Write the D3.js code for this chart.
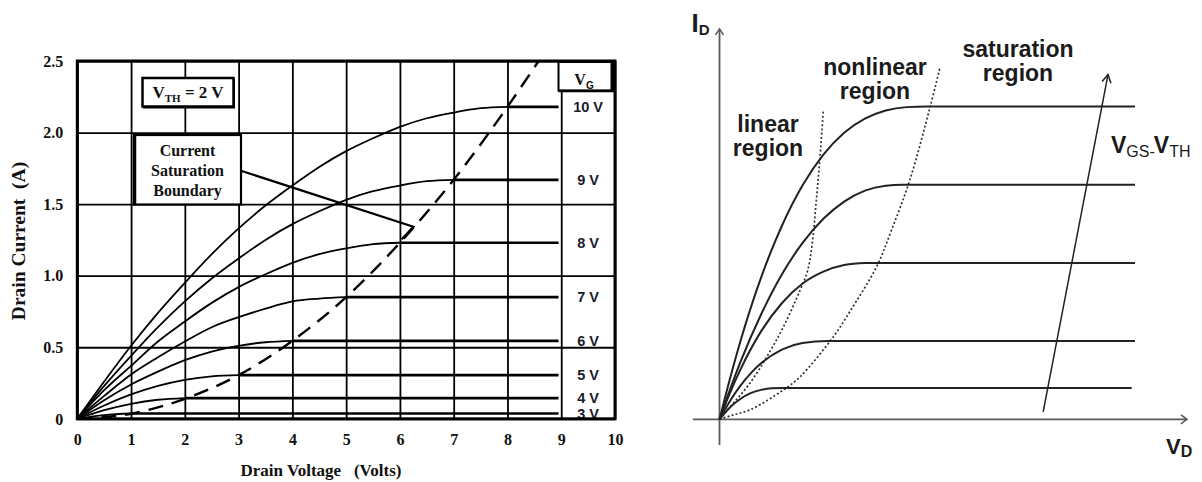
<!DOCTYPE html>
<html><head><meta charset="utf-8">
<script src="https://cdn.jsdelivr.net/npm/d3@7"></script>
<style>
html,body{margin:0;padding:0;background:#fff;}
svg{display:block;}
</style></head>
<body><svg id="chart" width="1202" height="482"></svg>
<script>
// ---------------- LEFT CHART DATA ----------------
const xTickVals = [0,1,2,3,4,5,6,7,8,9,10];
const yTickVals = [0,0.5,1.0,1.5,2.0,2.5];
const yTickLabels = ["0","0.5","1.0","1.5","2.0","2.5"];
const vdsGrid = [0,0.5,1,1.5,2,2.5,3,3.5,4,4.5,5,5.5,6,6.5,7,7.5,8];
// drain current (A) read along vdsGrid, up to the saturation point
const id10V = [0,0.26,0.51,0.74,0.95,1.15,1.33,1.49,1.63,1.76,1.87,1.96,2.04,2.10,2.14,2.17,2.18];
const id9V  = [0,0.23,0.44,0.64,0.82,0.98,1.12,1.25,1.36,1.45,1.53,1.59,1.63,1.66,1.67];
const id8V  = [0,0.20,0.37,0.54,0.68,0.81,0.92,1.01,1.09,1.15,1.19,1.22,1.23];
const id7V  = [0,0.16,0.31,0.43,0.54,0.64,0.71,0.77,0.82,0.84,0.85];
const id6V  = [0,0.13,0.24,0.33,0.41,0.47,0.51,0.535,0.545];
const id5V  = [0,0.093,0.17,0.23,0.272,0.297,0.305];
const id4V  = [0,0.06,0.105,0.133,0.145];
const id3V  = [0,0.026,0.037];
const gateCurves = [id3V,id4V,id5V,id6V,id7V,id8V,id9V,id10V];
const gateLabels = ["3 V","4 V","5 V","6 V","7 V","8 V","9 V","10 V"];
const flatEndV = 8.95;
const boundaryV = [0,1,2,3,4,5,6,7,8,8.58];
const boundaryI = [0,0.035,0.14,0.305,0.545,0.85,1.23,1.67,2.18,2.5];

// ---------------- RIGHT SCHEMATIC DATA (arbitrary units) ----------------
const schemTop    = [[0,0],[2.5,12.9],[5,24.8],[10,45.3],[15,61.8],[20,74.8],[25,84.6],[30,91.6],[35,96.1],[40,98.7],[45,99.8],[50,100],[100,100]];
const schemSecond = [[0,0],[2.5,9.4],[5,18.2],[10,33.5],[15,46.3],[20,56.4],[25,64.1],[30,69.6],[35,73.1],[40,74.7],[44,75],[100,75]];
const schemThird  = [[0,0],[2.5,8.4],[5,15.8],[10,28.1],[15,37.1],[20,43.4],[25,47.2],[30,49.3],[35,49.95],[38,50],[100,50]];
const schemFourth = [[0,0],[2.5,5.8],[5,10.7],[7.5,14.7],[10,17.9],[15,22.3],[20,24.4],[26,25],[100,25]];
const schemFifth  = [[0,0],[2.5,3.8],[5,6.5],[7.5,8.35],[10,9.4],[12.5,9.9],[15.4,10],[99.2,10]];
const schemCurves = [schemTop,schemSecond,schemThird,schemFourth,schemFifth];
const dottedInner = [[0,0],[3.3,5.1],[7.3,11.5],[11.4,20],[15.4,29.6],[19.4,41.3],[21.2,47.5],[22.3,56],[23.3,70],[24.2,84],[25,99]];
const dottedOuter = [[0,0],[3.3,1.4],[7.3,3],[15.4,9.4],[19.4,13.6],[27.4,26.4],[31.4,34.5],[37.8,48.8],[41.4,60.5],[45.8,76.5],[50.7,99.9],[53.1,112.7]];
const vgsArrow = [[77.9,2.4],[93.5,110.2]];
const schemXAxis = [-6.4,112.5];
const schemYAxis = [-8.2,124.8];

// ---------------- DRAW ----------------
const svg = d3.select("#chart");
const SERIF = "'Liberation Serif','Times New Roman',serif";
const SANS = "'Liberation Sans',Arial,sans-serif";
const INK = "#111";

const x = d3.scaleLinear().domain([0,10]).range([77.3,615]);
const y = d3.scaleLinear().domain([0,2.5]).range([418.8,61]);
const W = x(10)-x(0), H = y(0)-y(2.5);

const L = svg.append("g");

// grid + tick labels via axes
const gx = L.append("g").attr("transform",`translate(0,${y(0)})`)
  .call(d3.axisBottom(x).tickValues(xTickVals).tickSize(-H).tickPadding(14.5).tickFormat(d3.format("d")));
const gy = L.append("g").attr("transform",`translate(${x(0)},0)`)
  .call(d3.axisLeft(y).tickValues(yTickVals).tickSize(-W).tickPadding(14).tickFormat((d,i)=>yTickLabels[i]));
[gx,gy].forEach(g=>{
  g.select(".domain").remove();
  g.selectAll(".tick line").attr("stroke","#000").attr("stroke-width",1.8);
  g.selectAll(".tick text").attr("fill",INK).style("font-family",SERIF)
   .style("font-weight","bold").style("font-size","16px");
});
gy.selectAll(".tick text").attr("dy","0.33em");

// gate curves
const line = d3.line().x(d=>x(d[0])).y(d=>y(d[1])).curve(d3.curveMonotoneX);
gateCurves.forEach((arr)=>{
  const pts = arr.map((v,j)=>[vdsGrid[j],v]);
  L.append("path").attr("d",line(pts)).attr("fill","none")
   .attr("stroke","#000").attr("stroke-width",1.8);
  const last = pts[pts.length-1];
  L.append("line").attr("x1",x(last[0])).attr("x2",x(flatEndV))
   .attr("y1",y(last[1])).attr("y2",y(last[1]))
   .attr("stroke","#000").attr("stroke-width",2.7);
});

// saturation boundary (dashed)
L.append("path").attr("d",line(boundaryV.map((v,i)=>[v,boundaryI[i]])))
  .attr("fill","none").attr("stroke","#000").attr("stroke-width",2.4)
  .attr("stroke-dasharray","15,9");

// gate voltage labels
L.selectAll("text.gl").data(gateCurves).join("text").attr("class","gl")
  .attr("x",x(9.5)).attr("y",d=>y(d[d.length-1])).attr("dy","0.36em")
  .attr("text-anchor","middle").attr("fill","#1a1a2a")
  .style("font-family",SANS).style("font-weight","bold").style("font-size","14.5px")
  .text((d,i)=>gateLabels[i]);

// V_G header box
const vg = L.append("g");
vg.append("rect").attr("x",558.5).attr("y",62).attr("width",54).attr("height",28.5)
  .attr("fill","#fff").attr("stroke","#000").attr("stroke-width",2);
vg.append("line").attr("x1",612.5).attr("x2",612.5).attr("y1",62).attr("y2",92).attr("stroke","#000").attr("stroke-width",4);
vg.append("line").attr("x1",558.5).attr("x2",614).attr("y1",91).attr("y2",91).attr("stroke","#000").attr("stroke-width",2.5);
const vgt = vg.append("text").attr("x",584).attr("y",84.5).attr("text-anchor","middle").attr("fill",INK)
  .style("font-family",SERIF).style("font-weight","bold").style("font-size","16px");
vgt.append("tspan").text("V");
vgt.append("tspan").attr("dy",4).style("font-size","10px").style("font-family",SANS).text("G");

// V_TH box
const vth = L.append("g");
vth.append("rect").attr("x",142.5).attr("y",78).attr("width",91).attr("height",28.5)
  .attr("fill","#fff").attr("stroke","#000").attr("stroke-width",2.5);
vth.append("line").attr("x1",234).attr("x2",234).attr("y1",79).attr("y2",108).attr("stroke","#000").attr("stroke-width",2);
vth.append("line").attr("x1",143).attr("x2",235).attr("y1",107.5).attr("y2",107.5).attr("stroke","#000").attr("stroke-width",2);
const vtht = vth.append("text").attr("x",188).attr("y",98.3).attr("text-anchor","middle").attr("fill",INK)
  .style("font-family",SERIF).style("font-weight","bold").style("font-size","17px");
vtht.append("tspan").text("V");
vtht.append("tspan").attr("dy",4).style("font-size","11px").text("TH");
vtht.append("tspan").attr("dy",-4).text(" = 2 V");

// Current Saturation Boundary callout
const cb = L.append("g");
cb.append("polyline").attr("points",[[241.7,171],[413.3,226.7],[401.7,239.3]].join(" "))
  .attr("fill","none").attr("stroke","#000").attr("stroke-width",2.2);
cb.append("rect").attr("x",134.5).attr("y",135).attr("width",106.5).attr("height",69.5)
  .attr("fill","#fff").attr("stroke","#000").attr("stroke-width",2.2);
cb.append("line").attr("x1",134.5).attr("x2",134.5).attr("y1",134).attr("y2",205.5).attr("stroke","#000").attr("stroke-width",3.5);
["Current","Saturation","Boundary"].forEach((t,i)=>{
  cb.append("text").attr("x",187.5).attr("y",156+i*20).attr("text-anchor","middle").attr("fill",INK)
   .style("font-family",SERIF).style("font-weight","bold").style("font-size","16px").text(t);
});

// frame
L.append("rect").attr("x",x(0)).attr("y",y(2.5)).attr("width",W).attr("height",H)
  .attr("fill","none").attr("stroke","#000").attr("stroke-width",3);

// axis titles
L.append("text").attr("x",321).attr("y",475.5).attr("text-anchor","middle").attr("fill",INK)
  .style("font-family",SERIF).style("font-weight","bold").style("font-size","17px")
  .style("white-space","pre").text("Drain Voltage   (Volts)");
L.append("text").attr("transform","translate(25,241) rotate(-90)").attr("text-anchor","middle").attr("fill",INK)
  .style("font-family",SERIF).style("font-weight","bold").style("font-size","19.5px")
  .style("white-space","pre").text("Drain Current  (A)");

// ---------------- RIGHT SCHEMATIC ----------------
const xr = d3.scaleLinear().domain([0,100]).range([719.5,1135]);
const yr = d3.scaleLinear().domain([0,100]).range([419.3,106.5]);
const R = svg.append("g");
const AX = "#5a5a5a";

function chevron(g, p0, p1, len, half, color, sw){
  const dx = p1[0]-p0[0], dy = p1[1]-p0[1], n = Math.hypot(dx,dy);
  const ux = dx/n, uy = dy/n, px = -uy, py = ux;
  const b = [p1[0]-ux*len, p1[1]-uy*len];
  g.append("polyline").attr("points",[[b[0]+px*half,b[1]+py*half],p1,[b[0]-px*half,b[1]-py*half]].join(" "))
   .attr("fill","none").attr("stroke",color).attr("stroke-width",sw).attr("stroke-linejoin","miter");
}
// axes
const xa0 = [xr(schemXAxis[0]),yr(0)], xa1 = [xr(schemXAxis[1]),yr(0)];
const ya0 = [xr(0),yr(schemYAxis[0])], ya1 = [xr(0),yr(schemYAxis[1])];
R.append("line").attr("x1",xa0[0]).attr("y1",xa0[1]).attr("x2",xa1[0]).attr("y2",xa1[1]).attr("stroke",AX).attr("stroke-width",1.8);
R.append("line").attr("x1",ya0[0]).attr("y1",ya0[1]).attr("x2",ya1[0]).attr("y2",ya1[1]).attr("stroke",AX).attr("stroke-width",1.8);
chevron(R, xa0, xa1, 6, 4.5, AX, 1.6);
chevron(R, ya0, ya1, 6, 4, AX, 1.6);

// dotted boundaries
const lineR = d3.line().x(d=>xr(d[0])).y(d=>yr(d[1])).curve(d3.curveCatmullRom.alpha(0.5));
[dottedInner,dottedOuter].forEach(pts=>{
  R.append("path").attr("d",lineR(pts)).attr("fill","none").attr("stroke","#333")
   .attr("stroke-width",1.7).attr("stroke-dasharray","2,2.2");
});
// curves
const lineC = d3.line().x(d=>xr(d[0])).y(d=>yr(d[1])).curve(d3.curveMonotoneX);
schemCurves.forEach(pts=>{
  R.append("path").attr("d",lineC(pts)).attr("fill","none").attr("stroke","#222").attr("stroke-width",2);
});
// VGS-VTH arrow
const a0 = [xr(vgsArrow[0][0]),yr(vgsArrow[0][1])], a1 = [xr(vgsArrow[1][0]),yr(vgsArrow[1][1])];
R.append("line").attr("x1",a0[0]).attr("y1",a0[1]).attr("x2",a1[0]).attr("y2",a1[1]).attr("stroke","#222").attr("stroke-width",1.5);
chevron(R, a0, a1, 8, 4.5, "#222", 1.5);

// labels
const TXT = "#1b1b1b";
function lab(xx,yy,t){
  R.append("text").attr("x",xx).attr("y",yy).attr("text-anchor","middle").attr("fill",TXT)
   .style("font-family",SANS).style("font-weight","bold").style("font-size","23px").text(t);
}
lab(768,131.5,"linear"); lab(768,155.5,"region");
lab(875,75,"nonlinear"); lab(875,98.5,"region");
lab(1018,56.5,"saturation"); lab(1018,81,"region");

const idt = R.append("text").attr("x",691.5).attr("y",32).attr("fill",TXT)
  .style("font-family",SANS).style("font-weight","bold").style("font-size","26px");
idt.append("tspan").text("I");
idt.append("tspan").attr("dy",3).style("font-size","15px").text("D");

const vdt = R.append("text").attr("x",1166).attr("y",453.5).attr("fill",TXT)
  .style("font-family",SANS).style("font-weight","bold").style("font-size","22px");
vdt.append("tspan").text("V");
vdt.append("tspan").attr("dy",3.5).style("font-size","16px").text("D");

const vgs = R.append("text").attr("x",1111).attr("y",153.3).attr("fill",TXT)
  .style("font-family",SANS).style("font-weight","bold").style("font-size","23px");
vgs.append("tspan").text("V");
vgs.append("tspan").attr("dy",3.5).style("font-size","16px").style("font-weight","normal").text("GS-");
vgs.append("tspan").attr("dy",-3.5).attr("dx",-1).text("V");
vgs.append("tspan").attr("dy",3.5).style("font-size","16px").style("font-weight","normal").text("TH");
</script>
</body></html>
